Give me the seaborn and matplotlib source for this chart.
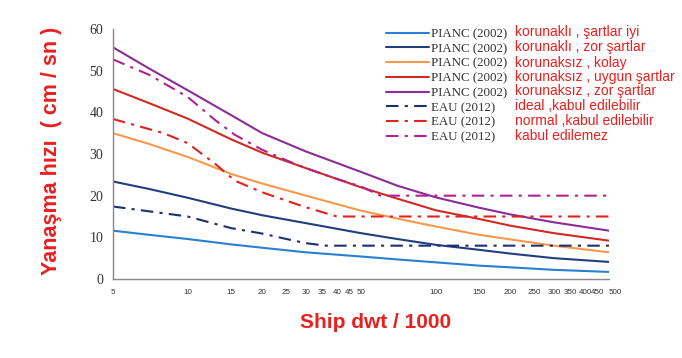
import matplotlib
matplotlib.use("Agg")
import matplotlib.pyplot as plt
import seaborn as sns
import pandas as pd

sns.set_style("white")
plt.rcParams['font.family'] = ['Liberation Sans', 'DejaVu Sans']

# okunan degerler (x: ship dwt / 1000, y: cm/sn)
dwt_pianc = [5, 7, 10, 15, 20, 30, 50, 70, 100, 150, 200, 300, 500]
pianc_iyi = [11.6, 10.6, 9.6, 8.3, 7.5, 6.4, 5.4, 4.7, 4.0, 3.2, 2.8, 2.2, 1.7]
pianc_zor = [23.4, 21.6, 19.5, 16.9, 15.3, 13.4, 11.0, 9.6, 8.2, 7.0, 6.1, 5.0, 4.1]
pianc_kolay = [35.0, 32.4, 29.3, 25.2, 22.9, 20.0, 16.4, 14.5, 12.6, 10.6, 9.5, 8.0, 6.4]
pianc_uygun = [45.6, 42.2, 38.5, 33.5, 30.3, 26.6, 22.0, 19.3, 16.5, 14.4, 12.8, 11.0, 9.2]
pianc_kzor = [55.6, 50.5, 45.3, 39.3, 35.0, 30.6, 25.7, 22.4, 19.6, 17.1, 15.5, 13.6, 11.6]

dwt_eau_ideal = [5, 10, 15, 20, 25, 30, 36, 500]
eau_ideal = [17.4, 15.0, 12.2, 10.9, 9.6, 8.6, 8.0, 8.0]
dwt_eau_normal = [5, 8, 10, 13, 15.5, 20, 25, 30, 40, 500]
eau_normal = [38.4, 35.0, 32.6, 27.5, 23.6, 20.8, 18.8, 17.2, 15.0, 15.0]
dwt_eau_kabul = [5, 7, 10, 13, 15.5, 20, 25, 30, 40, 50, 60, 500]
eau_kabul = [52.7, 49.0, 43.7, 38.0, 34.6, 31.0, 28.5, 26.6, 24.0, 22.2, 20.0, 20.0]

leg_left = ["PIANC (2002)"] * 5 + ["EAU (2012)"] * 3
leg_right = ["korunaklı , şartlar iyi", "korunaklı , zor şartlar",
             "korunaksız , kolay", "korunaksız , uygun şartlar",
             "korunaksız , zor şartlar", "ideal ,kabul edilebilir",
             "normal ,kabul edilebilir", "kabul edilemez"]

xticks = [5, 10, 15, 20, 25, 30, 35, 40, 45, 50, 100, 150, 200, 250,
          300, 350, 400, 450, 500]

series = [
    (dwt_pianc, pianc_iyi, "#2a7fd0", None),
    (dwt_pianc, pianc_zor, "#203f7c", None),
    (dwt_pianc, pianc_kolay, "#f7984c", None),
    (dwt_pianc, pianc_uygun, "#d12a24", None),
    (dwt_pianc, pianc_kzor, "#8c2c96", None),
    (dwt_eau_ideal, eau_ideal, "#1e2f6e", (6, 3, 1.5, 3)),
    (dwt_eau_normal, eau_normal, "#e0221e", (6, 3, 1.5, 3)),
    (dwt_eau_kabul, eau_kabul, "#b0228e", (6, 3, 1.5, 3)),
]

fig = plt.figure(figsize=(6.82, 3.58), dpi=100)
ax = fig.add_axes([113/682, 1-279/358, (609-113)/682, (279-29)/358])

handles = []
for xs, ys, c, dash in series:
    df = pd.DataFrame({"x": xs, "y": ys})
    sns.lineplot(data=df, x="x", y="y", ax=ax, color=c, linewidth=1.5,
                 legend=False)
    ln = ax.lines[-1]
    if dash is not None:
        ln.set_dashes(dash)
    handles.append(ln)
if ax.get_legend() is not None:
    ax.get_legend().remove()

ax.set_xscale("log")
ax.set_xlim(5, 500)
ax.set_ylim(0, 60)
ax.set_xticks(xticks)
ax.set_xticklabels([str(t) for t in xticks], fontsize=5.8, color="#333333")
ax.get_xticklabels()[-1].set_horizontalalignment("left")
ax.xaxis.set_minor_locator(matplotlib.ticker.NullLocator())
ax.set_yticks(range(0, 61, 10))
ax.set_yticklabels([str(t) for t in range(0, 61, 10)], fontsize=10,
                   family="Liberation Serif", color="#333333")
ax.tick_params(axis="x", direction="inout", length=6, width=0.8, color="#888888", pad=4)
ax.tick_params(axis="y", direction="out", length=4, width=0.8, color="#888888", pad=3)
for s in ["top", "right"]:
    ax.spines[s].set_visible(False)
for s in ["left", "bottom"]:
    ax.spines[s].set_color("#888888")
    ax.spines[s].set_linewidth(1.0)
ax.set_xlabel("")
ax.set_ylabel("")

leg = fig.legend(handles=handles, labels=leg_left, loc="upper left",
                 bbox_to_anchor=(386/682, 1-28/358), frameon=False,
                 prop={"family": "Liberation Serif", "size": 9.3},
                 handlelength=3.3, handletextpad=0.2, labelspacing=0.21,
                 borderpad=0, borderaxespad=0)
for t in leg.get_texts():
    t.set_color("#333333")

row_y = [32, 47, 62.5, 77, 91, 106.5, 121, 135.5]
for y, txt in zip(row_y, leg_right):
    fig.text(515/682, 1-y/358, txt, color="#e8201e", fontsize=10,
             va="center", ha="left")

fig.text(52/682, 1-151/358, "Yanaşma hızı  ( cm / sn )", color="#e8201e",
         fontsize=15.5, fontweight="bold", rotation=90, ha="center", va="center")
fig.text(376/682, 1-323/358, "Ship dwt / 1000", color="#e8201e",
         fontsize=15, fontweight="bold", ha="center", va="center")

fig.savefig("out.png", dpi=100, facecolor="white")
